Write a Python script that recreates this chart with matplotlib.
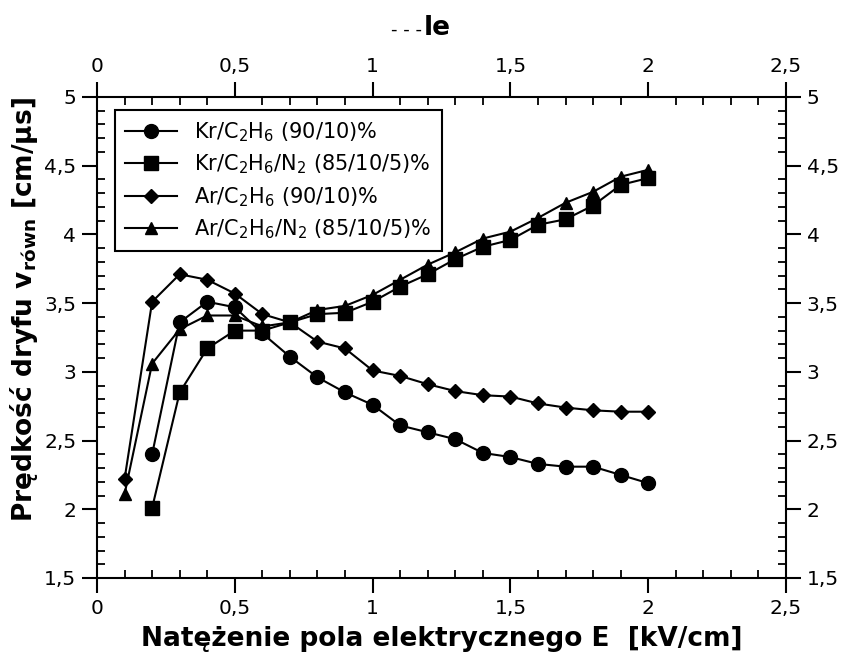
import matplotlib
matplotlib.use("Agg")
import matplotlib.pyplot as plt
from matplotlib.ticker import MultipleLocator, FuncFormatter

# electric field E [kV/cm]
E = [0.1, 0.2, 0.3, 0.4, 0.5, 0.6, 0.7, 0.8, 0.9, 1.0,
     1.1, 1.2, 1.3, 1.4, 1.5, 1.6, 1.7, 1.8, 1.9, 2.0]

# drift velocity [cm/us]
kr_c2h6 = [2.40, 3.36, 3.51, 3.47, 3.28, 3.11, 2.96, 2.85, 2.76,
           2.61, 2.56, 2.51, 2.41, 2.38, 2.33, 2.31, 2.31, 2.25, 2.19]
kr_c2h6_n2 = [2.01, 2.85, 3.17, 3.30, 3.30, 3.36, 3.42, 3.43, 3.51,
              3.62, 3.71, 3.82, 3.91, 3.96, 4.07, 4.11, 4.21, 4.36, 4.41]
ar_c2h6 = [2.22, 3.51, 3.71, 3.67, 3.57, 3.42, 3.36, 3.22, 3.17, 3.01,
           2.97, 2.91, 2.86, 2.83, 2.82, 2.77, 2.74, 2.72, 2.71, 2.71]
ar_c2h6_n2 = [2.11, 3.06, 3.31, 3.41, 3.41, 3.33, 3.36, 3.45, 3.48, 3.56,
              3.67, 3.78, 3.87, 3.97, 4.02, 4.12, 4.23, 4.31, 4.42, 4.47]

labels = ["Kr/C$_2$H$_6$ (90/10)%",
          "Kr/C$_2$H$_6$/N$_2$ (85/10/5)%",
          "Ar/C$_2$H$_6$ (90/10)%",
          "Ar/C$_2$H$_6$/N$_2$ (85/10/5)%"]

plt.rcParams['mathtext.fontset'] = 'dejavusans'

fig = plt.figure(figsize=(8.42, 6.62), dpi=100)
ax = fig.add_axes([0.1152, 0.1269, 0.8183, 0.7266])

ax.plot(E[1:], kr_c2h6, color="black", lw=1.5, marker="o", ms=10, label=labels[0])
ax.plot(E[1:], kr_c2h6_n2, color="black", lw=1.5, marker="s", ms=9.5, label=labels[1])
ax.plot(E, ar_c2h6, color="black", lw=1.5, marker="D", ms=7, label=labels[2])
ax.plot(E, ar_c2h6_n2, color="black", lw=1.5, marker="^", ms=9, label=labels[3])

ax.set_xlim(0, 2.5)
ax.set_ylim(1.5, 5)
ax.xaxis.set_major_locator(MultipleLocator(0.5))
ax.xaxis.set_minor_locator(MultipleLocator(0.1))
ax.yaxis.set_major_locator(MultipleLocator(0.5))
ax.yaxis.set_minor_locator(MultipleLocator(0.1))

comma = FuncFormatter(lambda v, p: ("%g" % v).replace(".", ","))
ax.xaxis.set_major_formatter(comma)
ax.yaxis.set_major_formatter(comma)

for s in ax.spines.values():
    s.set_linewidth(1.5)
ax.tick_params(which="both", top=True, right=True, labeltop=True, labelright=True)
ax.tick_params(which="major", direction="out", length=11, width=1.5, labelsize=14.5, pad=4)
ax.tick_params(which="minor", direction="in", length=6, width=1.3)

ax.set_xlabel("Natężenie pola elektrycznego E  [kV/cm]", fontsize=19, fontweight="bold", labelpad=6)
ax.set_ylabel("Prędkość dryfu v$_{\\mathbf{równ}}$ [cm/μs]", fontsize=19, fontweight="bold")
ax.yaxis.set_label_coords(-0.082, 0.557)

leg = ax.legend(loc="upper left", bbox_to_anchor=(0.026, 0.973), borderaxespad=0, fontsize=15,
                handlelength=2.5, fancybox=False, framealpha=1, edgecolor="black",
                borderpad=0.5, labelspacing=0.42, handletextpad=0.8)
leg.get_frame().set_linewidth(1.5)

# title: broken dashes followed by bold "le"
fig.text(391 / 842, 1 - 35 / 662, "- - -", fontsize=13, ha="left", va="baseline")
fig.text(424 / 842, 1 - 35 / 662, "le", fontsize=19, fontweight="bold", ha="left", va="baseline")

fig.savefig("out.png", dpi=100)
